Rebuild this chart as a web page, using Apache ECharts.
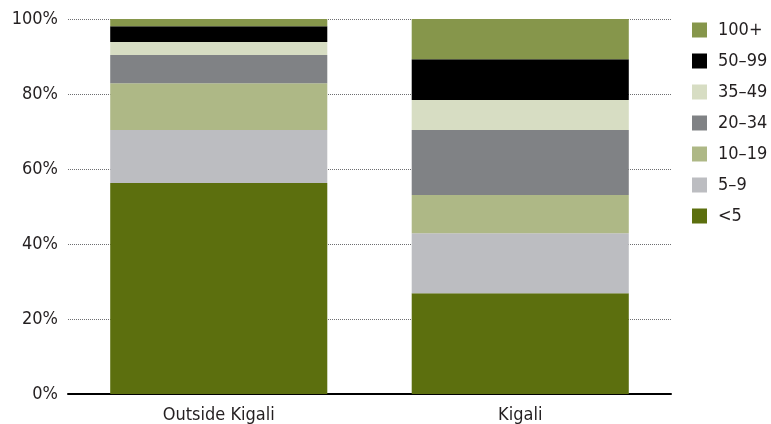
<!DOCTYPE html>
<html>
<head>
<meta charset="utf-8">
<script src="https://cdn.jsdelivr.net/npm/echarts@6/dist/echarts.min.js"></script>
<style>
  html, body { margin: 0; padding: 0; background: #ffffff; }
  #chart { width: 771px; height: 424px; }
</style>
</head>
<body>
<div id="chart"></div>
<script>
// Share of enterprises by number of employees, stacked to 100%
const categories = ['Outside Kigali', 'Kigali'];

// Size bands, bottom of the stack first
const bandNames = ['<5', '5\u20139', '10\u201319', '20\u201334', '35\u201349', '50\u201399', '100+'];

// Percent of total, [Outside Kigali, Kigali]
const under5   = [56.3, 26.9];
const from5    = [14.1, 16.0];
const from10   = [12.5, 10.2];
const from20   = [7.5, 17.3];
const from35   = [3.5, 8.0];
const from50   = [4.2, 10.9];
const over100  = [1.9, 10.7];

const yTicks = [0, 20, 40, 60, 80, 100];

const bandValues = [under5, from5, from10, from20, from35, from50, over100];
const bandColors = ['#5c6f0e', '#bcbdc1', '#aeb886', '#808285', '#d7ddc3', '#000000', '#86964b'];

const FONT = '"Liberation Sans Narrow", "DejaVu Sans Condensed", "Roboto", sans-serif';
const TEXT = '#231f20';

const chart = echarts.init(document.getElementById('chart'), null, { renderer: 'canvas' });

chart.setOption({
  animation: false,
  backgroundColor: '#ffffff',
  grid: { left: 68, right: 100, top: 19, bottom: 30, containLabel: false },
  legend: {
    orient: 'vertical',
    left: 692,
    top: 21,
    padding: 0,
    itemWidth: 15,
    itemHeight: 15,
    itemGap: 13,
    icon: 'rect',
    data: bandNames.slice().reverse(),
    textStyle: { fontFamily: FONT, fontSize: 18, lineHeight: 15, color: TEXT, padding: [0, 0, 0, 6] }
  },
  xAxis: {
    type: 'category',
    data: categories,
    axisLine: { show: true, lineStyle: { color: '#000000', width: 2 } },
    axisTick: { show: false },
    axisLabel: { fontFamily: FONT, fontSize: 18, color: TEXT, margin: 12 },
    splitLine: { show: false }
  },
  yAxis: {
    type: 'value',
    min: yTicks[0],
    max: yTicks[yTicks.length - 1],
    interval: yTicks[1] - yTicks[0],
    axisLine: { show: false },
    axisTick: { show: false },
    axisLabel: {
      fontFamily: FONT, fontSize: 18, color: TEXT, margin: 10,
      formatter: v => v + '%'
    },
    splitLine: { show: true, lineStyle: { color: '#6d6e71', type: [1, 1], width: 1 } }
  },
  series: bandNames.map((name, i) => ({
    name: name,
    type: 'bar',
    stack: 'total',
    barCategoryGap: '28%',
    data: bandValues[i],
    itemStyle: { color: bandColors[i] },
    emphasis: { disabled: true }
  }))
});
</script>
</body>
</html>
